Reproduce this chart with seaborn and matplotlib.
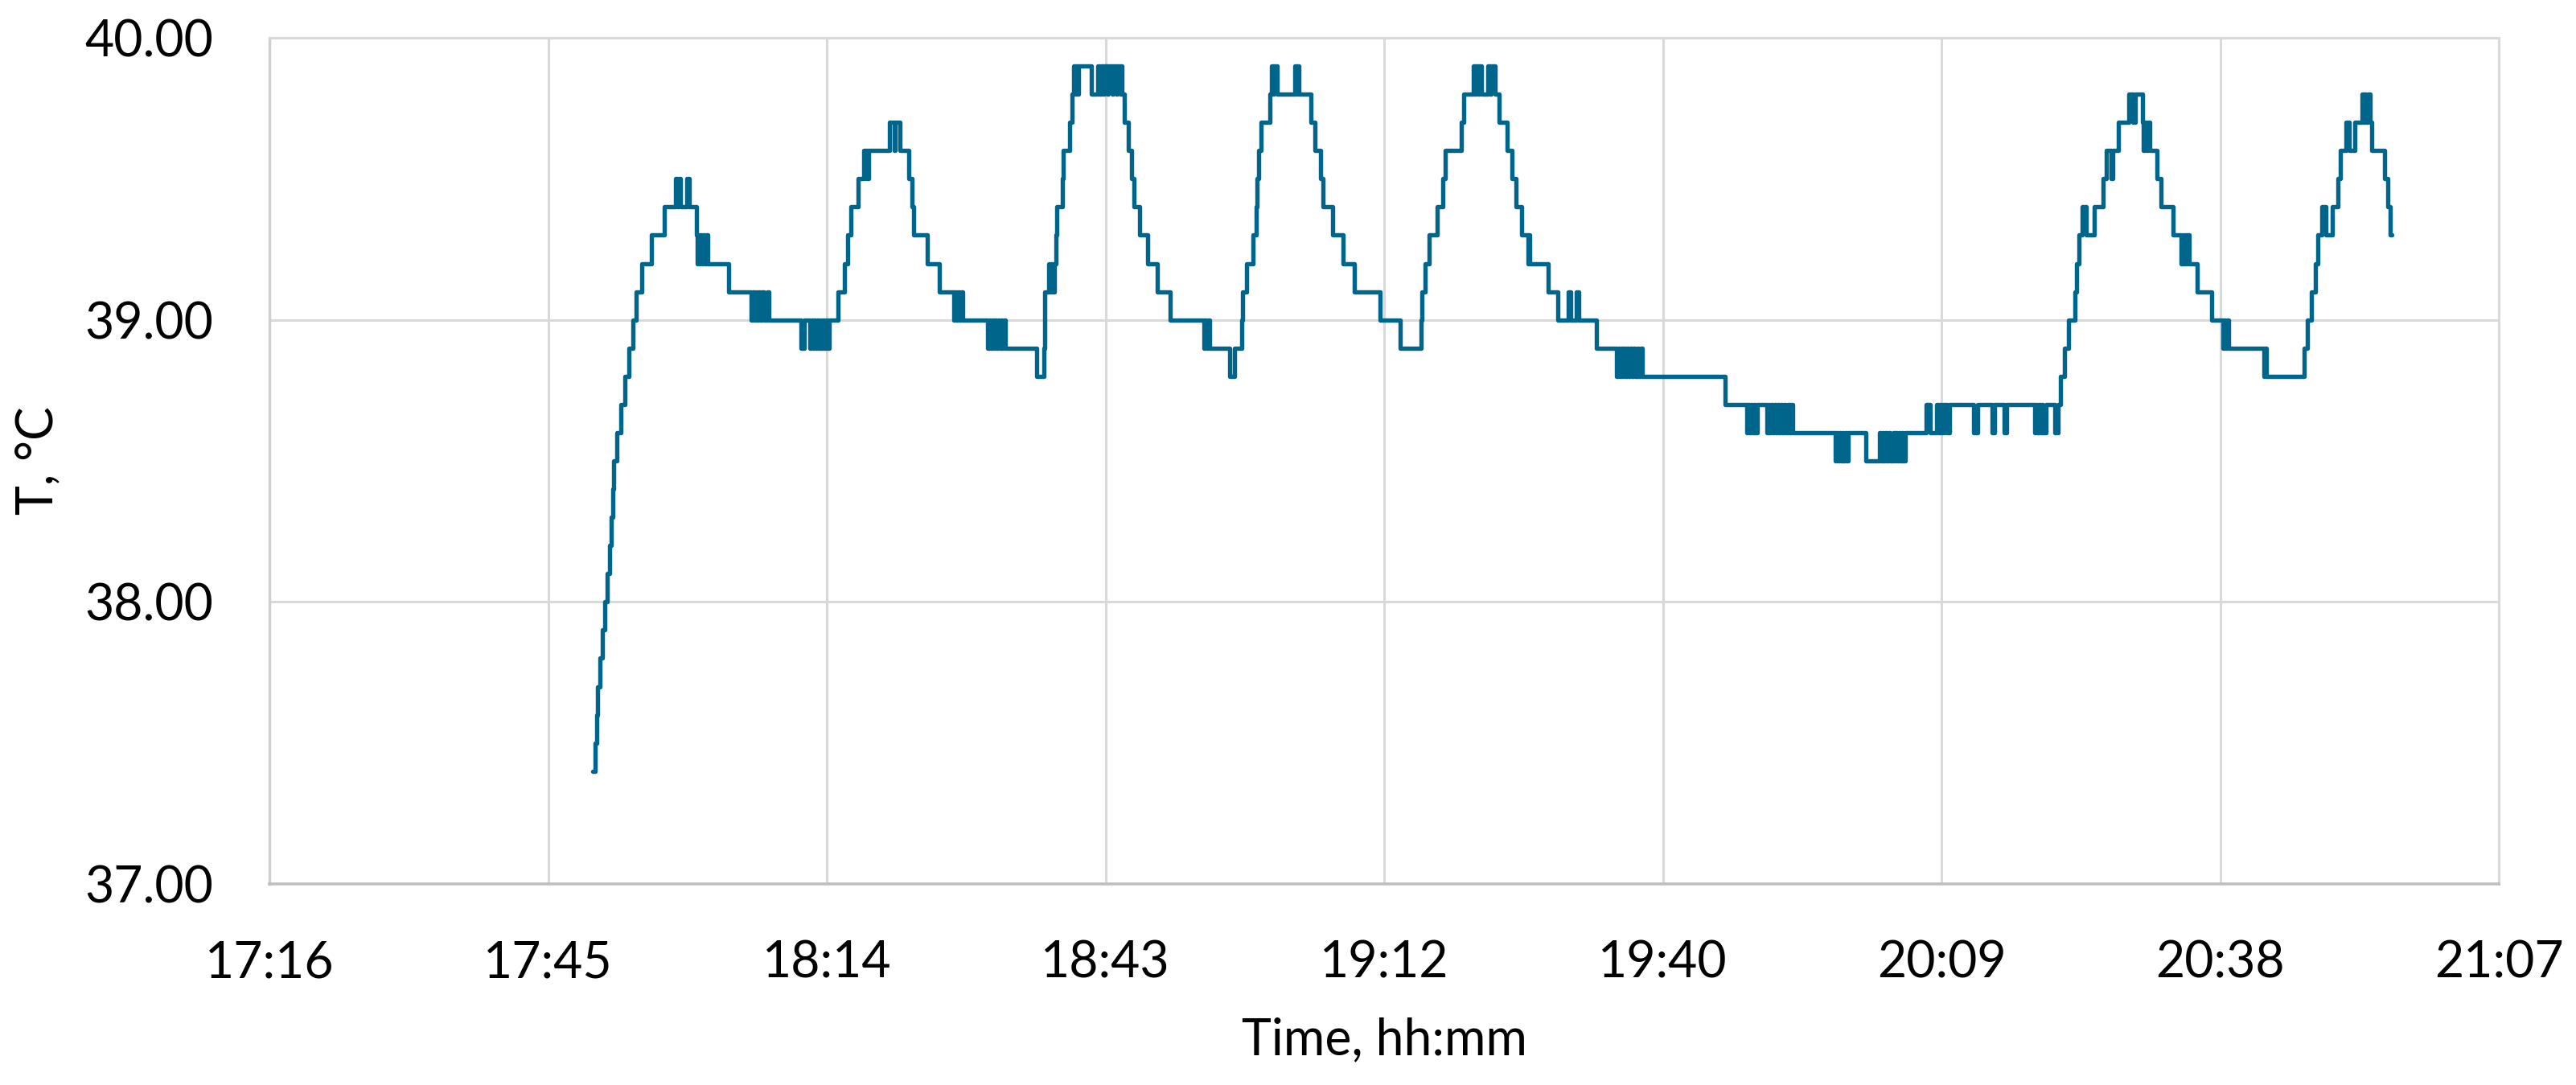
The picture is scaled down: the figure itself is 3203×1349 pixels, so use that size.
import matplotlib
matplotlib.use("Agg")
import matplotlib.pyplot as plt
import pandas as pd
import seaborn as sns

# ---------------- data: (minutes after 17:00, temperature °C) step changes ----------------
warmup = [(50.19, 37.4), (50.45, 37.5), (50.60, 37.6), (50.74, 37.7), (51.00, 37.8), (51.25, 37.9),
          (51.44, 38.0), (51.71, 38.1), (51.99, 38.2), (52.13, 38.3), (52.27, 38.4), (52.41, 38.5),
          (52.68, 38.6), (53.10, 38.7), (53.57, 38.8), (53.93, 38.9), (54.35, 39.0), (54.70, 39.1),
          (55.30, 39.2), (56.30, 39.3), (57.60, 39.4), (58.75, 39.5), (58.95, 39.4), (59.10, 39.5),
          (59.30, 39.4), (59.90, 39.5), (60.20, 39.4)]

cycle1_fall = [(60.90, 39.3), (61.05, 39.2), (61.25, 39.3), (61.40, 39.2), (61.60, 39.3), (61.75, 39.2),
               (61.95, 39.3), (62.10, 39.2), (64.25, 39.1), (66.60, 39.0), (66.75, 39.1), (66.90, 39.0),
               (67.05, 39.1), (67.20, 39.0), (67.35, 39.1), (67.50, 39.0), (67.65, 39.1), (67.90, 39.0),
               (68.25, 39.1), (68.45, 39.0), (71.75, 38.9), (72.10, 39.0), (72.65, 38.9), (72.80, 39.0),
               (72.95, 38.9), (73.10, 39.0), (73.25, 38.9), (73.40, 39.0), (73.55, 38.9), (73.70, 39.0),
               (73.85, 38.9), (74.00, 39.0), (74.15, 38.9), (74.30, 39.0), (74.45, 38.9), (74.65, 39.0)]

cycle2 = [(75.60, 39.1), (76.20, 39.2), (76.60, 39.3), (76.90, 39.4), (77.65, 39.5), (78.20, 39.6),
          (78.35, 39.5), (78.50, 39.6), (78.62, 39.5), (78.75, 39.6), (80.85, 39.7), (81.35, 39.6),
          (81.45, 39.7), (81.95, 39.6), (82.90, 39.5), (83.20, 39.4), (83.40, 39.3), (84.75, 39.2),
          (86.05, 39.1), (87.50, 39.0), (87.65, 39.1), (87.80, 39.0), (87.95, 39.1), (88.10, 39.0),
          (88.25, 39.1), (88.45, 39.0), (91.05, 38.9), (91.20, 39.0), (91.35, 38.9), (91.50, 39.0),
          (91.65, 38.9), (91.80, 39.0), (91.95, 38.9), (92.10, 39.0), (92.25, 38.9), (92.40, 39.0),
          (92.55, 38.9), (92.70, 39.0), (92.85, 38.9), (96.10, 38.8), (96.85, 38.9)]

cycle3 = [(96.90, 39.0), (96.95, 39.1), (97.30, 39.2), (97.45, 39.1), (97.60, 39.2), (97.75, 39.1),
          (97.90, 39.2), (98.12, 39.3), (98.20, 39.4), (98.75, 39.5), (98.85, 39.6), (99.50, 39.7),
          (99.78, 39.8), (99.93, 39.9), (100.08, 39.8), (100.20, 39.9), (100.35, 39.8), (100.45, 39.9),
          (101.73, 39.8), (102.42, 39.9), (102.60, 39.8), (102.75, 39.9), (103.00, 39.8), (103.10, 39.9),
          (103.40, 39.8), (103.50, 39.9), (103.90, 39.8), (104.00, 39.9), (104.30, 39.8), (104.40, 39.9),
          (104.70, 39.8), (104.80, 39.9), (104.92, 39.8), (105.19, 39.7), (105.61, 39.6), (105.89, 39.5),
          (106.16, 39.4), (106.72, 39.3), (107.55, 39.2), (108.52, 39.1), (109.90, 39.0), (113.37, 38.9),
          (113.50, 39.0), (113.65, 38.9), (113.80, 39.0), (113.95, 38.9), (116.00, 38.8), (116.55, 38.9)]

cycle4 = [(117.25, 39.0), (117.38, 39.1), (117.80, 39.2), (118.49, 39.3), (118.77, 39.4), (118.90, 39.5),
          (119.05, 39.6), (119.32, 39.7), (120.16, 39.8), (120.40, 39.9), (120.55, 39.8), (120.65, 39.9),
          (120.95, 39.8), (122.75, 39.9), (122.90, 39.8), (123.00, 39.9), (123.20, 39.8), (124.45, 39.7),
          (124.87, 39.6), (125.42, 39.5), (125.70, 39.4), (126.67, 39.3), (127.78, 39.2), (128.89, 39.1),
          (131.55, 39.0), (133.65, 38.9)]

cycle5 = [(135.85, 39.0), (135.90, 39.1), (136.23, 39.2), (136.64, 39.3), (137.48, 39.4), (138.03, 39.5),
          (138.31, 39.6), (139.97, 39.7), (140.25, 39.8), (141.22, 39.9), (141.40, 39.8), (141.50, 39.9),
          (141.70, 39.8), (141.80, 39.9), (142.05, 39.8), (142.74, 39.9), (142.95, 39.8), (143.05, 39.9),
          (143.43, 39.8), (143.85, 39.7), (144.68, 39.6), (145.23, 39.5), (145.65, 39.4), (146.20, 39.3),
          (146.85, 39.2), (146.97, 39.3), (147.08, 39.2), (148.97, 39.1), (149.94, 39.0), (151.00, 39.1),
          (151.30, 39.0), (151.85, 39.1), (152.15, 39.0), (153.96, 38.9)]

evening_low = [(156.04, 38.8), (156.20, 38.9), (156.35, 38.8), (156.50, 38.9), (156.65, 38.8), (156.80, 38.9),
               (156.95, 38.8), (157.10, 38.9), (157.25, 38.8), (157.45, 38.9), (157.60, 38.8), (157.80, 38.9),
               (157.95, 38.8), (158.15, 38.9), (158.30, 38.8), (158.50, 38.9), (158.65, 38.8),
               (167.25, 38.7), (169.47, 38.6), (169.60, 38.7), (169.75, 38.6), (169.90, 38.7), (170.05, 38.6),
               (170.20, 38.7), (170.35, 38.6), (170.55, 38.7), (171.55, 38.6), (171.70, 38.7), (171.85, 38.6),
               (172.00, 38.7), (172.15, 38.6), (172.35, 38.7), (172.50, 38.6), (172.65, 38.7), (172.80, 38.6),
               (173.00, 38.7), (173.15, 38.6), (173.35, 38.7), (173.50, 38.6), (173.70, 38.7), (173.85, 38.6),
               (174.05, 38.7), (174.20, 38.6),
               (178.61, 38.5), (178.75, 38.6), (178.90, 38.5), (179.05, 38.6), (179.20, 38.5), (179.35, 38.6),
               (179.50, 38.5), (179.65, 38.6), (179.80, 38.5), (179.95, 38.6), (181.80, 38.5),
               (183.19, 38.6), (183.35, 38.5), (183.50, 38.6), (183.65, 38.5), (183.80, 38.6), (183.95, 38.5),
               (184.10, 38.6), (184.25, 38.5), (184.60, 38.6), (184.75, 38.5), (184.90, 38.6), (185.05, 38.5),
               (185.20, 38.6), (185.35, 38.5), (185.50, 38.6), (185.65, 38.5), (185.82, 38.6),
               (188.04, 38.7), (188.45, 38.6), (189.14, 38.7), (189.30, 38.6), (189.45, 38.7), (189.60, 38.6),
               (189.75, 38.7), (189.90, 38.6), (190.05, 38.7), (190.20, 38.6), (190.39, 38.7), (192.89, 38.6),
               (193.30, 38.7), (194.82, 38.6), (195.10, 38.7), (196.07, 38.6), (196.35, 38.7), (199.20, 38.6),
               (199.35, 38.7), (199.50, 38.6), (199.65, 38.7), (199.80, 38.6), (199.95, 38.7), (200.10, 38.6),
               (200.37, 38.7), (201.34, 38.6), (201.62, 38.7)]

cycle6 = [(201.89, 38.8), (202.31, 38.9), (202.72, 39.0), (203.42, 39.1), (203.55, 39.2), (203.83, 39.3),
          (204.11, 39.4), (204.52, 39.3), (205.36, 39.4), (206.33, 39.5), (206.60, 39.6), (207.16, 39.5),
          (207.30, 39.6), (207.85, 39.7), (208.96, 39.8), (209.40, 39.7), (209.65, 39.8), (210.34, 39.7),
          (210.50, 39.6), (210.65, 39.7), (210.80, 39.6), (210.95, 39.7), (211.10, 39.6), (211.87, 39.5),
          (212.28, 39.4), (213.53, 39.3), (214.36, 39.2), (214.50, 39.3), (214.65, 39.2), (214.80, 39.3),
          (214.95, 39.2), (215.05, 39.3), (215.19, 39.2), (216.02, 39.1), (217.55, 39.0), (218.66, 38.9),
          (218.80, 39.0), (218.95, 38.9), (219.10, 39.0), (219.25, 38.9), (222.90, 38.8), (223.05, 38.9),
          (223.20, 38.8)]

cycle7 = [(227.11, 38.9), (227.38, 39.0), (227.80, 39.1), (228.22, 39.2), (228.49, 39.3), (228.91, 39.4),
          (229.32, 39.3), (230.02, 39.4), (230.57, 39.5), (230.85, 39.6), (231.40, 39.7), (231.75, 39.6),
          (232.30, 39.7), (233.06, 39.8), (233.20, 39.7), (233.35, 39.8), (233.50, 39.7), (233.65, 39.8),
          (233.90, 39.7), (234.03, 39.6), (235.42, 39.5), (235.70, 39.4), (235.97, 39.3), (236.11, 39.3)]

x_tick_labels = ["17:16", "17:45", "18:14", "18:43", "19:12", "19:40", "20:09", "20:38", "21:07"]
y_ticks = [37.0, 38.0, 39.0, 40.0]
y_tick_labels = ["37.00", "38.00", "39.00", "40.00"]

# ---------------- build frame ----------------
segments = [warmup, cycle1_fall, cycle2, cycle3, cycle4, cycle5, evening_low, cycle6, cycle7]
rows = [p for seg in segments for p in seg]
df = pd.DataFrame(rows, columns=["minute", "temp"])

LINE = "#00658A"
GRID = "#D9D9D9"
AXIS = "#BFBFBF"

sns.set_theme(style="white")
plt.rcParams["font.family"] = ["Lato", "DejaVu Sans"]

fig = plt.figure(figsize=(32.03, 13.49), dpi=100)
ax = fig.add_axes([0.10459, 0.18532, 0.86544, 0.77984])

sns.lineplot(data=df, x="minute", y="temp", ax=ax, estimator=None, sort=False,
             drawstyle="steps-post", color=LINE, linewidth=3.9,
             solid_joinstyle="round", solid_capstyle="round")

x_start = 16.8      # 17:16.8
x_step = 28.8       # Excel major unit 0.02 day
x_ticks = [x_start + x_step * i for i in range(len(x_tick_labels))]
ax.set_xlim(x_ticks[0], x_ticks[-1])
ax.set_ylim(y_ticks[0], y_ticks[-1])
ax.set_xticks(x_ticks)
ax.set_xticklabels(x_tick_labels)
ax.set_yticks(y_ticks)
ax.set_yticklabels(y_tick_labels)

ax.tick_params(axis="both", length=0, pad=50, labelsize=45, labelcolor="black")
ax.grid(True, color=GRID, linewidth=2.2)
ax.set_axisbelow(True)

for side in ["top", "right"]:
    ax.spines[side].set_visible(True)
    ax.spines[side].set_color(GRID)
    ax.spines[side].set_linewidth(2.2)
ax.spines["left"].set_color("#CFCFCF")
ax.spines["left"].set_linewidth(2.4)
ax.spines["bottom"].set_color(AXIS)
ax.spines["bottom"].set_linewidth(2.6)

ax.set_xlabel("Time, hh:mm", fontsize=45, color="black")
ax.set_ylabel("T, °C", fontsize=45, color="black")
ax.xaxis.set_label_coords(0.5, -0.1844)
ax.xaxis.label.set_va("center")
ax.yaxis.set_label_coords(-0.1039, 0.5)
ax.yaxis.label.set_va("center")

fig.savefig("out.png", dpi=100, facecolor="white")
